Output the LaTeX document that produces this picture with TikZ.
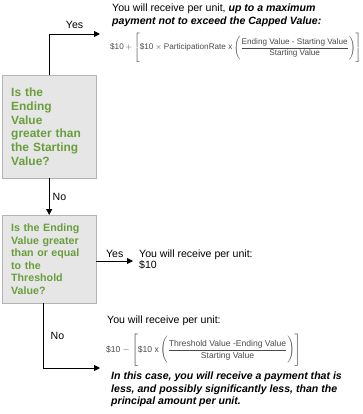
\documentclass[tikz,border=0pt]{standalone}
\usepackage{amsmath}
\usepackage{fontspec}
\setmainfont{Liberation Sans}
\usetikzlibrary{arrows.meta,positioning}
\definecolor{qgreen}{HTML}{6A9E3C}
\definecolor{qfill}{HTML}{E6E6E6}
\definecolor{qedge}{HTML}{B4B4B4}
\definecolor{fgray}{HTML}{4A4A4A}
\tikzset{
  question/.style={draw=qedge, fill=qfill, text=qgreen, align=left, text width=76bp,
    inner xsep=9bp, anchor=north west},
  result/.style={align=left, inner sep=0pt, font=\fontsize{10.6}{12.5}\selectfont},
  formula/.style={text=fgray, inner sep=0pt, anchor=west, font=\fontsize{8.6}{10}\selectfont},
  flow/.style={-{Triangle[length=6bp,width=6bp]}, line width=0.9bp},
  label/.style={font=\fontsize{10.6}{12}\selectfont, inner sep=3bp},
}
\begin{document}
\begin{tikzpicture}[x=1bp,y=-1bp]
                \useasboundingbox (0,0) rectangle (363,414);

                % Question boxes
                \node[question, minimum height=103bp, font=\bfseries\fontsize{12}{14}\selectfont]
                  (q1) at (2,75) {Is the\\Ending\\Value\\greater than\\the Starting\\Value?};
                \node[question, minimum height=88bp, font=\bfseries\fontsize{10.7}{12.5}\selectfont]
                  (q2) at (2,215) {Is the Ending\\Value greater\\than or equal\\to the\\Threshold\\Value?};

                % Outcome: above the starting value
                \node[result, anchor=north west] (out1) at (112,4)
                  {You will receive per unit, \textbf{\textit{up to a maximum}}\\
                   \textbf{\textit{payment not to exceed the Capped Value:}}};
                \node[formula, font=\fontsize{8.2}{10}\selectfont] (calc1) at (110,48)
                  {$\text{\$10} + \left[\rule[-13bp]{0pt}{29bp}\text{\$10} \times \text{ParticipationRate\ x}
                   \left(\rule[-11bp]{0pt}{25bp}\dfrac{\text{Ending Value\ -\ Starting Value}}{\text{Starting Value}}\right)\right]$};
                \coordinate (a1) at (100,34);

                % Outcome: at or above the threshold
                \node[result, anchor=north west, font=\fontsize{10.6}{11}\selectfont] (out2) at (139,250)
                  {You will receive per unit:\\\$10};
                \coordinate (a2) at (133,261);

                % Outcome: below the threshold
                \node[result, anchor=west] (out3) at (107,321) {You will receive per unit:};
                \node[formula] (calc2) at (106,350)
                  {$\text{\$10} - \left[\rule[-14bp]{0pt}{30bp}\text{\$10\ x}
                   \left(\rule[-11bp]{0pt}{26bp}\dfrac{\text{Threshold\ Value\ -Ending Value}}{\text{Starting Value}}\right)\right]$};
                \node[result, anchor=north west, font=\bfseries\itshape\fontsize{10.6}{12.2}\selectfont] (out4) at (111,372)
                  {In this case, you will receive a payment that is\\
                   less, and possibly significantly less, than the\\
                   principal amount per unit.};
                \coordinate (a3) at (100,368);

                % Arrows
                \draw[flow] (q1.north) |- (a1) node[label, pos=0.75, above=2bp] {Yes};
                \draw[flow] (q1.south) -- (q2.north) node[label, midway, right] {No};
                \draw[flow] (q2.east |- a2) -- (a2) node[label, midway, above] {Yes};
                \draw[flow] ([xshift=-6bp]q2.south) |- (a3) node[label, pos=0.25, right=4bp] {No};
            \end{tikzpicture}
\end{document}
